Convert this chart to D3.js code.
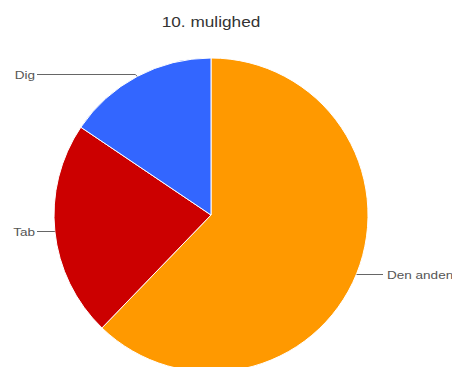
<!DOCTYPE html>
<html>
<head>
<meta charset="utf-8">
<script src="https://cdn.jsdelivr.net/npm/d3@7/dist/d3.min.js"></script>
<style>
  html, body { margin: 0; padding: 0; background: #fff; overflow: hidden; }
  svg { display: block; }
</style>
</head>
<body>
<svg id="chart" width="452" height="367"></svg>
<script>
// Answers for "10. mulighed"
const title = "10. mulighed";
const categories = ["Den anden", "Tab", "Dig"];
const counts = [28, 10, 7];
const colors = ["#ff9900", "#cc0000", "#3366ff"];

const W = 452, H = 367;
const cx = 211, cy = 215, radius = 157;
const stretch = 1.23;           // wide label face
const labelFont = "Liberation Sans, Arial, sans-serif";

const svg = d3.select("#chart");

// Title
svg.append("text")
  .attr("transform", `translate(${cx},26.5) scale(${stretch},1)`)
  .attr("text-anchor", "middle")
  .attr("font-family", labelFont)
  .attr("font-size", 14)
  .attr("fill", "#333")
  .text(title);

const pie = d3.pie().sort(null).value(d => d)(counts);
const arc = d3.arc().innerRadius(0).outerRadius(radius);

const g = svg.append("g").attr("transform", `translate(${cx},${cy})`);

g.selectAll("path.slice")
  .data(pie)
  .join("path")
  .attr("class", "slice")
  .attr("d", arc)
  .attr("fill", (d, i) => colors[i])
  .attr("stroke", "#fff")
  .attr("stroke-width", 1);

// Leader lines and labels, anchored at each slice's mid angle on the rim
const labels = svg.append("g");
pie.forEach((d, i) => {
  const mid = (d.startAngle + d.endAngle) / 2;
  const ax = cx + radius * Math.sin(mid);
  const ay = cy - radius * Math.cos(mid);
  const right = Math.sin(mid) > 0;
  const upper = Math.cos(mid) > 0.5;
  const ly = Math.round(ay) + (upper ? -2 : 0) + 0.5;
  const endX = right ? 383 : 37;
  const pts = upper
    ? [[ax, ay], [ax + (right ? 2 : -2), ly], [endX, ly]]
    : [[ax, ly], [endX, ly]];
  labels.append("path")
    .attr("d", d3.line()(pts))
    .attr("fill", "none")
    .attr("stroke", "#666")
    .attr("stroke-width", 1);
  const tx = right ? endX + 4 : endX - 2;
  labels.append("text")
    .attr("transform", `translate(${tx},${ly + 4}) scale(${stretch},1)`)
    .attr("text-anchor", right ? "start" : "end")
    .attr("font-family", labelFont)
    .attr("font-size", 11)
    .attr("fill", "#555")
    .text(categories[i]);
});
</script>
</body>
</html>
